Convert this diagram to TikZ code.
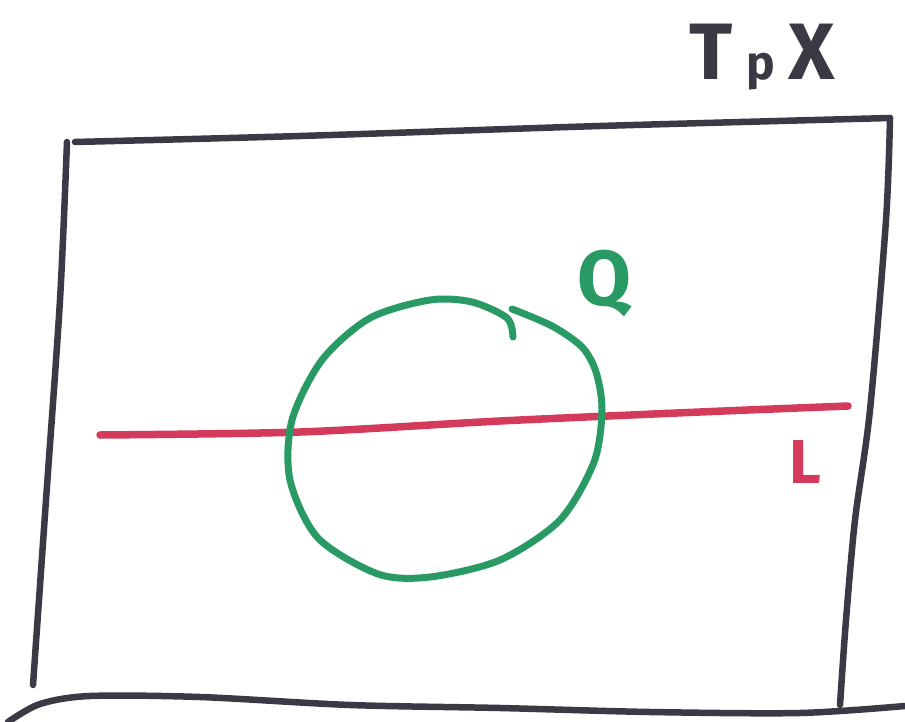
\documentclass[tikz,border=0pt]{standalone}
\usepackage{fontspec}
\setmainfont{Fira Sans}
\definecolor{ink}{HTML}{3A3A45}
\definecolor{grn}{HTML}{2A9A65}
\definecolor{rd}{HTML}{D43A5A}
\begin{document}
\begin{tikzpicture}[x=1pt,y=-1pt,line cap=round,line join=round,
  frame/.style={draw=ink,line width=6.5pt},
  gline/.style={draw=grn,line width=7pt},
  rline/.style={draw=rd,line width=7.5pt},
  lbl/.style={anchor=base,inner sep=0pt,font=\bfseries}]
\useasboundingbox (0,0) rectangle (905,722);
% frame
\draw[frame] plot[smooth] coordinates {(75,142) (300,136) (600,126) (890,118)};
\draw[frame] plot[smooth] coordinates {(67,142) (60,300) (46,500) (33,685)};
\draw[frame] plot[smooth] coordinates {(890,118) (886,220) (870,410) (855,520) (846,620) (840,705)};
\draw[frame] plot[smooth] coordinates {(8,722) (40,704) (90,696) (200,697) (350,705) (500,708) (650,712) (800,713) (905,706)};
% red line
\draw[rline] plot[smooth] coordinates {(100,435) (300,432) (500,421) (700,412) (848,406)};
% green loop
\draw[gline] plot[smooth] coordinates {(513,337) (507,318) (472,302) (430,300) (370,318) (322,360) (292,420) (290,480) (318,538) (378,574) (430,577) (500,560) (560,520) (594,462) (602,410) (596,372) (582,347) (552,326) (512,309)};
% labels
\node[lbl,text=ink,font=\bfseries\fontsize{80}{80}\selectfont] (tpx) at (762,80) {T\,{\fontsize{48}{48}\selectfont p}\,X};
\node[lbl,text=grn,font=\bfseries\fontsize{78}{78}\selectfont] (q) at (604,305) {Q};
\node[lbl,text=rd,font=\bfseries\fontsize{62}{62}\selectfont] (l) at (805,483) {L};
\end{tikzpicture}
\end{document}
